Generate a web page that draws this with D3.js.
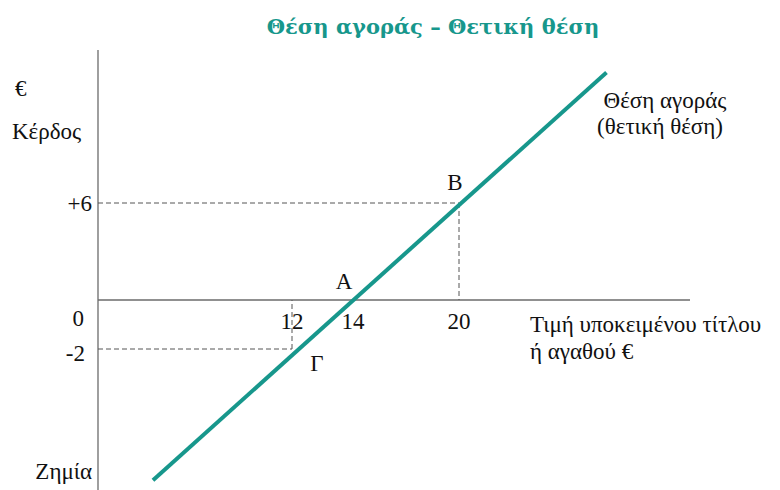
<!DOCTYPE html>
<html>
<head>
<meta charset="utf-8">
<script src="https://cdn.jsdelivr.net/npm/d3@7"></script>
</head>
<body style="margin:0;background:#fff">
<script>
// schematic payoff of a long position: profit = price - 14
const xTicks = [12, 14, 20];
const yTicks = [6, 0, -2];
const yTickLabels = ["+6", "0", "-2"];
const pointNames = ["A", "B", "Γ"];
const pointX = [14, 20, 12];
const pointY = [0, 6, -2];
const lineX = [3.4, 28.3];
const lineY = [-7.4, 14.1];

const width = 780, height = 490;
const teal = "#17978c";
const serifFont = '"Liberation Serif"';

const svg = d3.select("body").append("svg")
    .attr("width", width)
    .attr("height", height);

// the original drawing is not to scale, so piecewise scales
const x = d3.scaleLinear()
    .domain([0, 12, 14, 20, 33])
    .range([98, 292, 353, 459, 690]);
const y = d3.scaleLinear()
    .domain([-7.8, -2, 0, 6, 15.5])
    .range([490, 349, 300, 203, 50]);

function label(sel, size) {
    return sel.style("font-family", serifFont).style("font-size", size + "px").style("fill", "#111");
}

svg.append("text")
    .attr("x", 433).attr("y", 34)
    .attr("text-anchor", "middle")
    .style("font-family", '"DejaVu Serif"')
    .style("font-weight", "bold")
    .style("font-size", "21px")
    .style("fill", teal)
    .text("Θέση αγοράς – Θετική θέση");

// axes
svg.append("line")
    .attr("x1", x(0)).attr("x2", x(0))
    .attr("y1", y(15.5)).attr("y2", y(-7.8))
    .attr("stroke", "#6b6b6b").attr("stroke-width", 1.3);
svg.append("line")
    .attr("x1", x(0)).attr("x2", x(33))
    .attr("y1", y(0)).attr("y2", y(0))
    .attr("stroke", "#6b6b6b").attr("stroke-width", 1.3);

// dashed guides to B and Γ
const guides = [1, 2].map(i => ({px: pointX[i], py: pointY[i]}));
const gg = svg.append("g")
    .attr("stroke", "#555").attr("stroke-width", 1)
    .attr("stroke-dasharray", "5,3").attr("fill", "none");
guides.forEach(d => {
    gg.append("line")
        .attr("x1", x(0)).attr("x2", x(d.px))
        .attr("y1", y(d.py)).attr("y2", y(d.py));
    gg.append("line")
        .attr("x1", x(d.px)).attr("x2", x(d.px))
        .attr("y1", y(d.py)).attr("y2", y(0));
});

// payoff line
svg.append("line")
    .attr("x1", x(lineX[0])).attr("y1", y(lineY[0]))
    .attr("x2", x(lineX[1])).attr("y2", y(lineY[1]))
    .attr("stroke", teal).attr("stroke-width", 4);

// tick labels
label(svg.selectAll(".xt").data(xTicks).enter().append("text"), 23)
    .attr("class", "xt")
    .attr("x", d => x(d)).attr("y", y(0) + 29)
    .attr("text-anchor", "middle")
    .text(d => d);

const yLabOff = [[92, 8], [84, 26], [85, 12]];
label(svg.selectAll(".yt").data(yTicks).enter().append("text"), 23)
    .attr("class", "yt")
    .attr("x", (d, i) => yLabOff[i][0])
    .attr("y", (d, i) => y(d) + yLabOff[i][1])
    .attr("text-anchor", "end")
    .text((d, i) => yTickLabels[i]);

// point labels
const labelOff = [[-9, -11], [-4, -13], [25, 22]];
label(svg.selectAll(".pt").data(pointNames).enter().append("text"), 23)
    .attr("class", "pt")
    .attr("x", (d, i) => x(pointX[i]) + labelOff[i][0])
    .attr("y", (d, i) => y(pointY[i]) + labelOff[i][1])
    .attr("text-anchor", "middle")
    .text(d => d);

// other labels
const side = [
    ["€", 15, 96, "start"],
    ["Κέρδος", 12, 139, "start"],
    ["Ζημία", 92, 479, "end"],
    ["Θέση αγοράς", 665, 108, "middle"],
    ["(θετική θέση)", 660, 134, "middle"],
    ["Τιμή υποκειμένου τίτλου", 530, 332, "start"],
    ["ή αγαθού €", 530, 359, "start"]
];
label(svg.selectAll(".side").data(side).enter().append("text"), 23)
    .attr("class", "side")
    .attr("x", d => d[1]).attr("y", d => d[2])
    .attr("text-anchor", d => d[3])
    .text(d => d[0]);
</script>
</body>
</html>
